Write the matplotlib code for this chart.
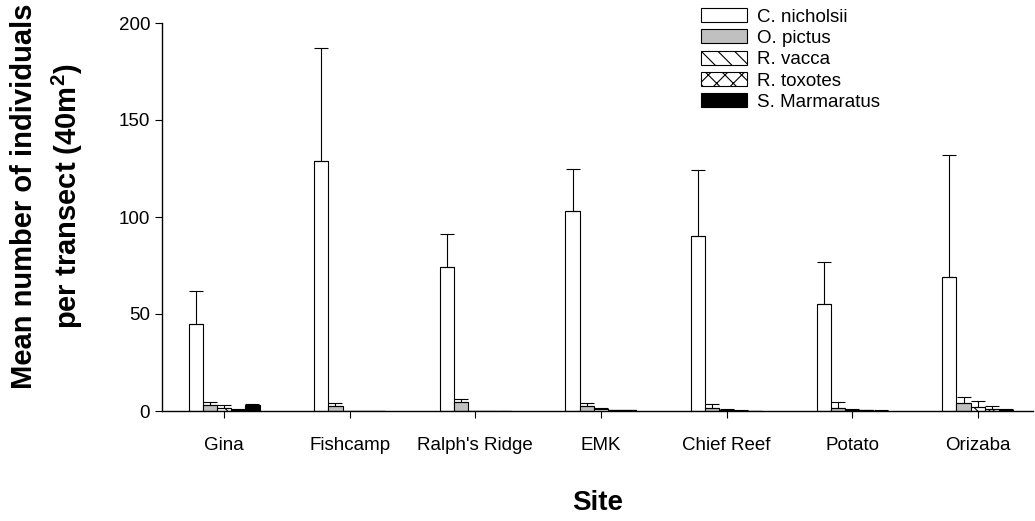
import numpy as np
import matplotlib
matplotlib.use("Agg")
import matplotlib.pyplot as plt

plt.rcParams['font.family'] = ['Liberation Sans', 'DejaVu Sans']
plt.rcParams['mathtext.fontset'] = 'custom'
plt.rcParams['mathtext.rm'] = 'Liberation Sans'
plt.rcParams['mathtext.bf'] = 'Liberation Sans:bold'
plt.rcParams['hatch.linewidth'] = 0.8

# sites on the x axis
sites = ["Gina", "Fishcamp", "Ralph's Ridge", "EMK", "Chief Reef", "Potato", "Orizaba"]

# mean counts per transect
c_nicholsii = [45, 129, 74, 103, 90, 55, 69]
o_pictus = [3.0, 2.6, 4.8, 2.7, 1.4, 1.4, 4.0]
r_vacca = [1.7, 0, 0, 1.0, 0.6, 0.6, 2.2]
r_toxotes = [0.7, 0, 0, 0.3, 0.2, 0.3, 0.9]
s_marmaratus = [3.0, 0, 0, 0.3, 0, 0.2, 0.5]

# upper error (SE)
c_nicholsii_err = [17, 58, 17, 22, 34, 22, 63]
o_pictus_err = [1.6, 1.7, 1.4, 1.3, 2.2, 3.1, 3.0]
r_vacca_err = [1.5, 0, 0, 0.3, 0.4, 0.3, 3.1]
r_toxotes_err = [0.5, 0, 0, 0.1, 0.1, 0.1, 1.8]
s_marmaratus_err = [0.4, 0, 0, 0.1, 0, 0.1, 0.3]

series = [
    ("C. nicholsii", c_nicholsii, c_nicholsii_err, "white", None),
    ("O. pictus", o_pictus, o_pictus_err, "#c0c0c0", None),
    ("R. vacca", r_vacca, r_vacca_err, "white", "\\\\"),
    ("R. toxotes", r_toxotes, r_toxotes_err, "white", "xx"),
    ("S. Marmaratus", s_marmaratus, s_marmaratus_err, "black", None),
]

fig = plt.figure(figsize=(10.35, 5.21), dpi=100)
ax = fig.add_axes([162/1035, 1-411/521, (1033-162)/1035, (411-23)/521])

x = np.arange(len(sites))
w = 0.113
for i, (name, vals, err, col, hatch) in enumerate(series):
    pos = x + (i - 2) * w
    ax.bar(pos, vals, w, color=col, edgecolor="black", linewidth=0.8,
           hatch=hatch, label=name, zorder=2)
    ax.errorbar(pos, vals, yerr=[np.zeros(len(vals)), err], fmt="none",
                ecolor="black", elinewidth=0.8, capsize=5, capthick=0.8, zorder=3)

ax.set_xlim(-0.494, 6.44)
ax.set_ylim(0, 200)
ax.set_yticks([0, 50, 100, 150, 200])
ax.set_xticks(x)
ax.set_xticklabels(sites)
ax.tick_params(axis="both", direction="out", length=5, width=0.8, labelsize=13.5, colors="black")
ax.tick_params(axis="x", pad=14)
for s in ["top", "right"]:
    ax.spines[s].set_visible(False)
for s in ["left", "bottom"]:
    ax.spines[s].set_linewidth(1.0)

ax.set_xlabel("Site", fontsize=20, fontweight="bold", labelpad=26)
ax.set_ylabel("Mean number of individuals\nper transect (40m$^{\\mathbf{2}}$)",
              fontsize=21, fontweight="bold", labelpad=24, linespacing=1.45)
ax.yaxis.label.set_y(0.554)

ax.legend(loc="upper left", bbox_to_anchor=(701/1035, 1-8/521), bbox_transform=fig.transFigure,
          frameon=False, fontsize=13.5, handlelength=2.45, handleheight=0.78,
          handletextpad=0.55, labelspacing=0.2, borderpad=0, borderaxespad=0)

fig.savefig("out.png", dpi=100)
